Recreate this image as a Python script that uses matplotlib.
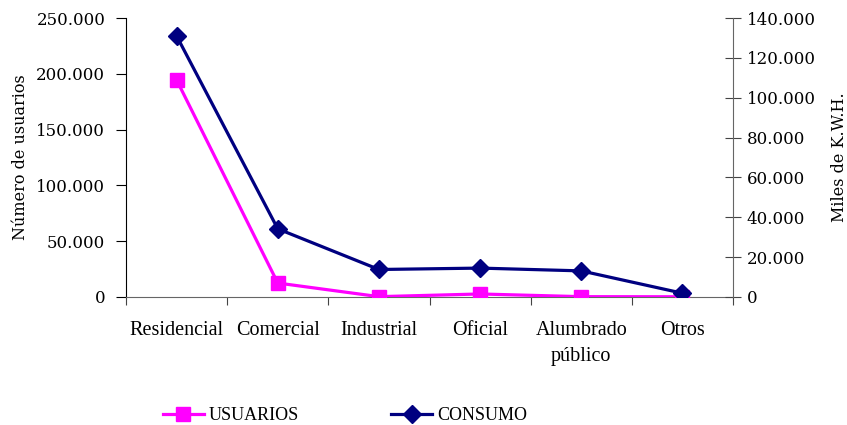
import matplotlib.pyplot as plt
from matplotlib.ticker import FuncFormatter, MultipleLocator
from matplotlib.lines import Line2D

# Datos
categorias = ['Residencial', 'Comercial', 'Industrial', 'Oficial', 'Alumbrado\npúblico', 'Otros']
usuarios = [194500, 12500, 300, 2700, 300, 200]
consumo = [131000, 34200, 13800, 14500, 13100, 1900]

plt.rcParams['font.family'] = ['DejaVu Serif']

def miles(x, pos):
    return f'{int(round(x)):,}'.replace(',', '.')

fig = plt.figure(figsize=(8.47, 4.25), dpi=100)
ax = fig.add_axes([0.1488, 0.3012, 0.7166, 0.6564])
ax2 = ax.twinx()

x = range(len(categorias))
ax.plot(x, usuarios, color='#FF00FF', marker='s', markersize=10, linewidth=2.3, zorder=3)
ax2.plot(x, consumo, color='#000080', marker='D', markersize=9, linewidth=2.3, zorder=3)

ax.set_xlim(-0.5, len(categorias) - 0.5)
ax.set_ylim(0, 250000)
ax2.set_ylim(0, 140000)
ax.yaxis.set_major_locator(MultipleLocator(50000))
ax2.yaxis.set_major_locator(MultipleLocator(20000))
ax.yaxis.set_major_formatter(FuncFormatter(miles))
ax2.yaxis.set_major_formatter(FuncFormatter(miles))

ax.set_xticks([i - 0.5 for i in range(len(categorias) + 1)])
ax.set_xticklabels([])
ax.set_xticks(list(x), minor=True)
ax.set_xticklabels(categorias, minor=True, fontsize=14.5, linespacing=1.55,
                   family='Liberation Serif')
ax.tick_params(axis='x', which='minor', length=0, pad=17)
ax.tick_params(axis='x', which='major', length=6, direction='out', color='#444444')

for a in (ax, ax2):
    a.spines['top'].set_visible(False)
    a.patch.set_visible(False)
ax2.spines['left'].set_visible(False)
ax2.spines['bottom'].set_visible(False)
ax.spines['right'].set_visible(False)
ax.spines['left'].set_color('black')
ax.spines['bottom'].set_color('#666666')
ax2.spines['right'].set_color('#666666')

ax.tick_params(axis='y', direction='out', length=7, labelsize=12, pad=8)
ax2.tick_params(axis='y', direction='inout', length=12, labelsize=12, pad=4, color='#444444')

ax.set_ylabel('Número de usuarios', fontsize=11.5, labelpad=5)
ax2.set_ylabel('Miles de K.W.H.', fontsize=11.5, labelpad=11)

handles = [Line2D([], [], color='#FF00FF', marker='s', markersize=10, linewidth=2.3),
           Line2D([], [], color='#000080', marker='D', markersize=9, linewidth=2.3)]
fig.legend(handles, ['USUARIOS', 'CONSUMO'], loc='center', bbox_to_anchor=(0.407, 0.022),
           ncol=2, frameon=False, prop={'family': 'Liberation Serif', 'size': 13},
           handlelength=2.3, handletextpad=0.25, columnspacing=5.1)

fig.savefig('out.png', dpi=100)
